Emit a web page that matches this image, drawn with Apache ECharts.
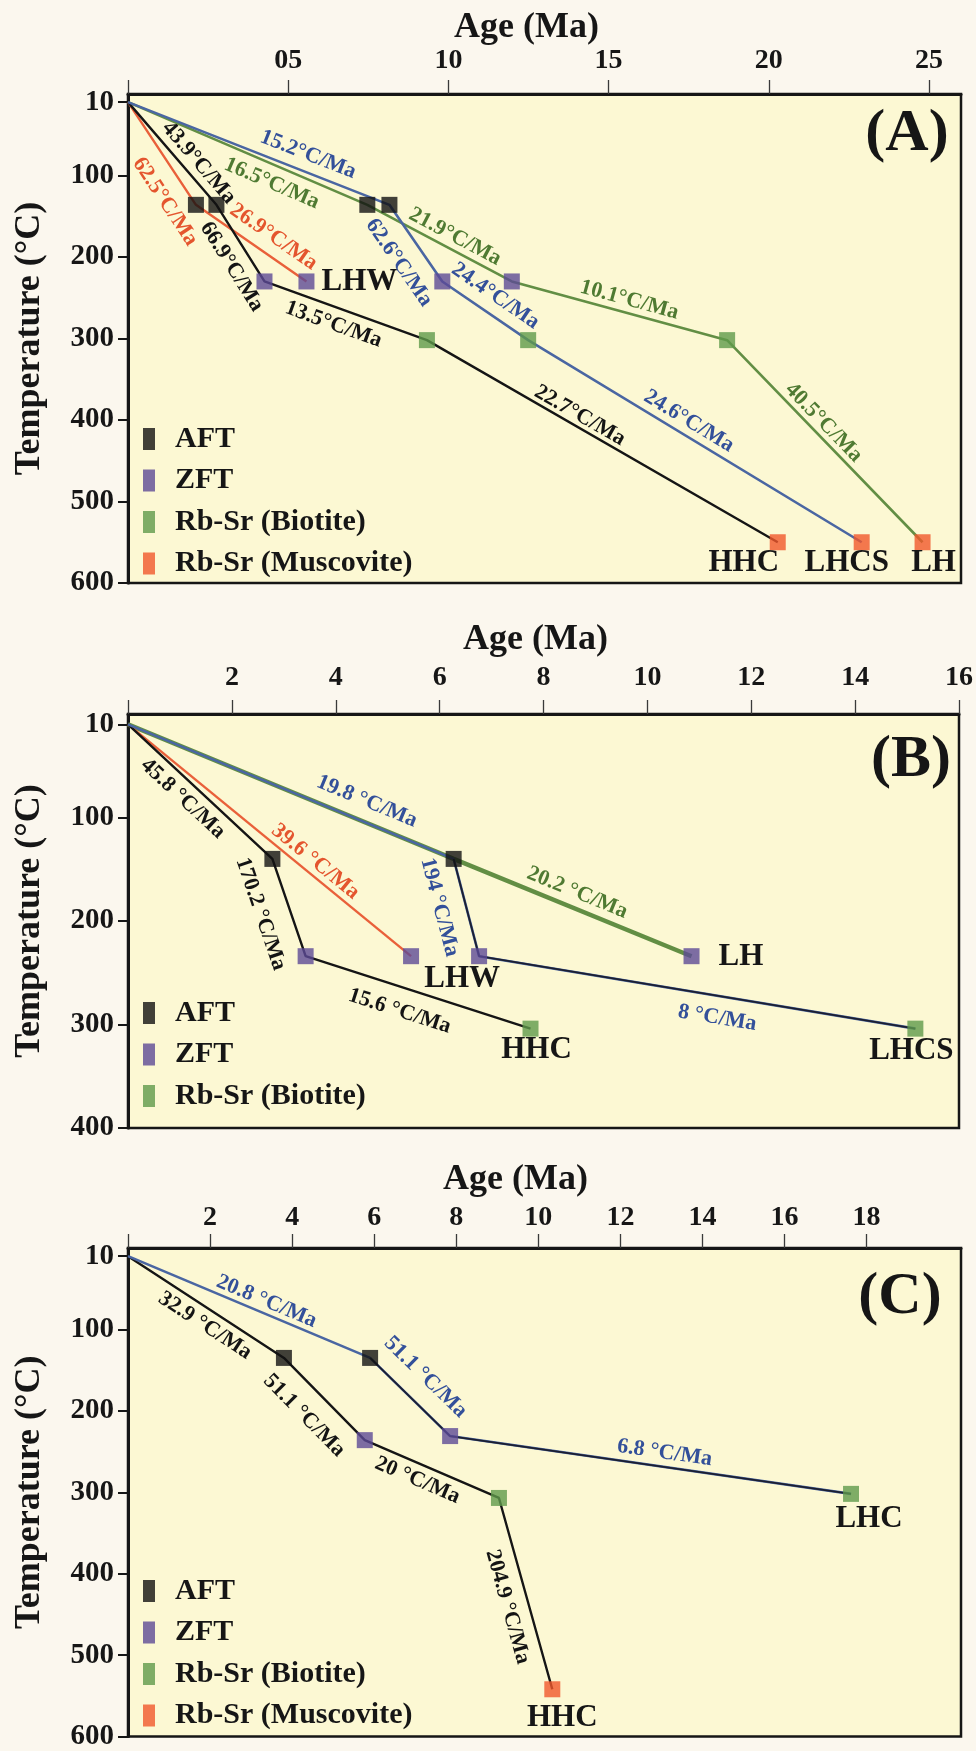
<!DOCTYPE html>
<html>
<head>
<meta charset="utf-8">
<title>Cooling histories</title>
<script src="https://cdn.jsdelivr.net/npm/echarts@6/dist/echarts.min.js"></script>
<style>
  html, body { margin: 0; padding: 0; background: #fbf7ee; }
  #chart { width: 976px; height: 1751px; }
</style>
</head>
<body>
<div id="chart"></div>
<script>
// ---------------------------------------------------------------
// Data: [age (Ma), temperature (°C)]
// ---------------------------------------------------------------
const SURFACE = [0, 10];

// Panel A
const aAFT       = [[2.12, 136], [2.76, 136], [7.47, 136], [8.16, 136]];
const aZFT       = [[4.26, 230], [5.57, 230], [9.81, 230], [11.98, 230]];
const aBiotite   = [[9.33, 302], [12.49, 302], [18.7, 302]];
const aMuscovite = [[20.28, 550], [22.9, 550], [24.8, 550]];
const aRates = ['62.5°C/Ma', '43.9°C/Ma', '15.2°C/Ma', '16.5°C/Ma', '26.9°C/Ma',
                '66.9°C/Ma', '13.5°C/Ma', '22.7°C/Ma', '62.6°C/Ma', '21.9°C/Ma',
                '24.4°C/Ma', '10.1°C/Ma', '24.6°C/Ma', '40.5°C/Ma'];
const aSites = ['LHW', 'HHC', 'LHCS', 'LH'];
const aAgeTicks  = [0, 5, 10, 15, 20, 25];
const aAgeLabels = [5, 10, 15, 20, 25];
const aTempTicks = [10, 100, 200, 300, 400, 500, 600];

// Panel B
const bAFT     = [[2.78, 140], [6.27, 140]];
const bZFT     = [[3.42, 234], [5.45, 234], [6.76, 234], [10.85, 234]];
const bBiotite = [[7.75, 304], [15.16, 304]];
const bRates = ['45.8 °C/Ma', '19.8 °C/Ma', '39.6 °C/Ma', '170.2 °C/Ma',
                '194 °C/Ma', '20.2 °C/Ma', '15.6 °C/Ma', '8 °C/Ma'];
const bSites = ['LHW', 'LH', 'HHC', 'LHCS'];
const bAgeTicks  = [0, 2, 4, 6, 8, 10, 12, 14, 16];
const bAgeLabels = [2, 4, 6, 8, 10, 12, 14, 16];
const bTempTicks = [10, 100, 200, 300, 400];

// Panel C
const cAFT       = [[3.8, 135], [5.9, 135]];
const cZFT       = [[5.77, 236], [7.85, 231]];
const cBiotite   = [[9.04, 307], [17.62, 302]];
const cMuscovite = [[10.34, 542]];
const cRates = ['20.8 °C/Ma', '32.9 °C/Ma', '51.1 °C/Ma', '51.1 °C/Ma',
                '20 °C/Ma', '6.8 °C/Ma', '204.9 °C/Ma'];
const cSites = ['LHC', 'HHC'];
const cAgeTicks  = [0, 2, 4, 6, 8, 10, 12, 14, 16, 18];
const cAgeLabels = [2, 4, 6, 8, 10, 12, 14, 16, 18];
const cTempTicks = [10, 100, 200, 300, 400, 500, 600];

// Cooling paths (sequences of the points above)
const aPaths = {
  red:   [SURFACE, aAFT[0], aZFT[1]],
  black: [SURFACE, aAFT[1], aZFT[0], aBiotite[0], aMuscovite[0]],
  green: [SURFACE, aAFT[2], aZFT[3], aBiotite[2], aMuscovite[2]],
  blue:  [SURFACE, aAFT[3], aZFT[2], aBiotite[1], aMuscovite[1]]
};
const bPaths = {
  black: [SURFACE, bAFT[0], bZFT[0], bBiotite[0]],
  red:   [SURFACE, bZFT[1]],
  green: [SURFACE, bAFT[1], bZFT[3]],
  blue:  [SURFACE, bAFT[1], bZFT[2], bBiotite[1]],
  dark:  [bAFT[1], bZFT[2], bBiotite[1]]
};
const cPaths = {
  black: [SURFACE, cAFT[0], cZFT[0], cBiotite[0], cMuscovite[0]],
  blue:  [SURFACE, cAFT[1], cZFT[1], cBiotite[1]],
  dark:  [cAFT[1], cZFT[1], cBiotite[1]]
};

// ---------------------------------------------------------------
// Styling
// ---------------------------------------------------------------
const FONT = "'Liberation Serif', 'Times New Roman', serif";
const INK = '#161616';
const COL = {
  black: '#151515', blue: '#4a66a2', green: '#628e44', red: '#e9603a', dark: '#1c1f30',
  blueText: '#33509a', greenText: '#4f7a32', redText: '#e4552e', blackText: '#141414',
  aft: '#121212', zft: '#5d4a96', bt: '#5f9a4b', ms: '#f0582c'
};
const LINE_W = { black: 2.4, blue: 2.6, green: 2.6, red: 2.4, dark: 1.8 };
const LINE_ORDER = ['green', 'red', 'black', 'blue', 'dark'];

// Label placement along path segments: [path, segment, fraction, offset(px, + = above)]
const aRatePlace = [
  ['red', 0, 0.84, -24], ['black', 0, 0.68, 14], ['blue', 0, 0.665, 17], ['green', 0, 0.63, -18],
  ['red', 1, 0.61, 18], ['black', 1, 0.67, -20], ['black', 2, 0.46, -17], ['black', 3, 0.42, 11],
  ['blue', 1, 0.57, -25], ['green', 1, 0.565, 13], ['blue', 2, 0.5, 18], ['green', 2, 0.53, 13],
  ['blue', 3, 0.46, 14], ['green', 3, 0.45, 12]
];
const bRatePlace = [
  ['black', 0, 0.46, -17], ['blue', 0, 0.71, 20], ['red', 0, 0.634, 12.5], ['black', 1, 0.47, -29],
  ['blue', 1, 0.43, -26], ['green', 1, 0.495, 15.5], ['black', 2, 0.45, -23.5], ['blue', 2, 0.554, -22]
];
const cRatePlace = [
  ['blue', 0, 0.553, 12], ['black', 0, 0.55, -16], ['black', 1, 0.48, -26], ['blue', 1, 0.475, 25],
  ['black', 2, 0.44, -16], ['blue', 2, 0.53, 14], ['black', 3, 0.54, -21]
];
// Site name anchors: [point, dx, dy, align]
const aSitePlace = [[aZFT[1], 15, 1, 'left'], [aMuscovite[0], -34, 21, 'center'],
                    [aMuscovite[1], -15, 21, 'center'], [aMuscovite[2], 11, 21, 'center']];
const bSitePlace = [[bZFT[2], -17, 23, 'center'], [bZFT[3], 27, 1, 'left'],
                    [bBiotite[0], 6, 21, 'center'], [bBiotite[1], -4, 22, 'center']];
const cSitePlace = [[cBiotite[1], 18, 25, 'center'], [cMuscovite[0], 10, 29, 'center']];

const panels = [
  { letter: '(A)', top: 94, height: 489, xMax: 26, yMax: 600,
    ageTicks: aAgeTicks, ageLabels: aAgeLabels, tempTicks: aTempTicks,
    nameGap: 46, labelMargin: 19, nameShift: -18, legendTop: 424, letterPos: [907, 134],
    paths: aPaths, rates: aRates, ratePlace: aRatePlace, sites: aSites, sitePlace: aSitePlace,
    markers: [['AFT', aAFT, COL.aft], ['ZFT', aZFT, COL.zft],
              ['Rb-Sr (Biotite)', aBiotite, COL.bt], ['Rb-Sr (Muscovite)', aMuscovite, COL.ms]] },
  { letter: '(B)', top: 714, height: 414, xMax: 16, yMax: 400,
    ageTicks: bAgeTicks, ageLabels: bAgeLabels, tempTicks: bTempTicks,
    nameGap: 56, labelMargin: 22, nameShift: -8, legendTop: 998, letterPos: [911, 760],
    paths: bPaths, rates: bRates, ratePlace: bRatePlace, sites: bSites, sitePlace: bSitePlace,
    markers: [['AFT', bAFT, COL.aft], ['ZFT', bZFT, COL.zft], ['Rb-Sr (Biotite)', bBiotite, COL.bt]] },
  { letter: '(C)', top: 1248, height: 494, xMax: 20.3, yMax: 600,
    ageTicks: cAgeTicks, ageLabels: cAgeLabels, tempTicks: cTempTicks,
    nameGap: 50, labelMargin: 16, nameShift: -29, legendTop: 1576, letterPos: [900, 1297],
    paths: cPaths, rates: cRates, ratePlace: cRatePlace, sites: cSites, sitePlace: cSitePlace,
    markers: [['AFT', cAFT, COL.aft], ['ZFT', cZFT, COL.zft],
              ['Rb-Sr (Biotite)', cBiotite, COL.bt], ['Rb-Sr (Muscovite)', cMuscovite, COL.ms]] }
];

const RATE_COLOR = { black: COL.blackText, blue: COL.blueText, green: COL.greenText, red: COL.redText };

// ---------------------------------------------------------------
// Chart
// ---------------------------------------------------------------
const chart = echarts.init(document.getElementById('chart'));

const grids = [], xAxes = [], yAxes = [], series = [], legends = [];
panels.forEach((p, i) => {
  grids.push({ left: 128, right: 15, top: p.top, height: p.height, show: true,
               backgroundColor: '#fcf8d3', borderColor: INK, borderWidth: 2.5 });
  const shift = p.nameShift;
  xAxes.push({
    gridIndex: i, type: 'value', position: 'top', min: 0, max: p.xMax,
    name: 'Age (Ma)', nameLocation: 'middle', nameGap: p.nameGap,
    nameTextStyle: { fontFamily: FONT, fontWeight: 'bold', fontSize: 36, color: INK,
                     padding: shift < 0 ? [0, -2 * shift, 0, 0] : [0, 0, 0, 2 * shift] },
    axisLine: { show: true, onZero: false, lineStyle: { color: INK, width: 3 } },
    axisTick: { show: true, inside: false, length: 14, customValues: p.ageTicks,
                lineStyle: { color: '#3a3a3a', width: 1.3 } },
    axisLabel: { show: true, customValues: p.ageLabels, margin: p.labelMargin,
                 fontFamily: FONT, fontWeight: 'bold', fontSize: 28, color: INK,
                 formatter: v => (i === 0 && v === 5) ? '05' : String(v) },
    splitLine: { show: false }
  });
  yAxes.push({
    gridIndex: i, type: 'value', inverse: true, min: 0, max: p.yMax,
    name: 'Temperature (°C)', nameLocation: 'middle', nameGap: 80, nameRotate: 90,
    nameTextStyle: { fontFamily: FONT, fontWeight: 'bold', fontSize: 36, color: INK },
    axisLine: { show: true, onZero: false, lineStyle: { color: INK, width: 3 } },
    axisTick: { show: true, inside: false, length: 10, customValues: p.tempTicks,
                lineStyle: { color: INK, width: 2 } },
    axisLabel: { show: true, customValues: p.tempTicks, margin: 14,
                 fontFamily: FONT, fontWeight: 'bold', fontSize: 29, color: INK },
    splitLine: { show: false }
  });

  LINE_ORDER.forEach(key => {
    if (!p.paths[key]) return;
    let width = LINE_W[key];
    // where green and blue share the first leg, the green runs wider underneath
    if (i === 1 && key === 'green') width = 4.4;
    series.push({
      type: 'line', xAxisIndex: i, yAxisIndex: i, data: p.paths[key],
      symbol: 'none', showSymbol: false, silent: true, z: 2,
      lineStyle: { color: COL[key], width }
    });
  });

  p.markers.forEach(([name, pts, color]) => {
    series.push({
      name, type: 'scatter', xAxisIndex: i, yAxisIndex: i, data: pts,
      symbol: 'rect', symbolSize: [16, 16], itemStyle: { color }, z: 5, silent: true
    });
  });

  legends.push({
    orient: 'vertical', left: 143, top: p.legendTop, padding: 0,
    icon: 'rect', itemWidth: 12, itemHeight: 22, itemGap: 11.5,
    selectedMode: false,
    data: p.markers.map(m => m[0]),
    textStyle: { fontFamily: FONT, fontWeight: 'bold', fontSize: 30, color: INK,
                 lineHeight: 30, padding: [0, 0, 0, 15] }
  });
});

chart.setOption({
  animation: false,
  backgroundColor: '#fbf7ee',
  grid: grids, xAxis: xAxes, yAxis: yAxes, legend: legends, series
});

// Rate and site labels, placed from the data through the axes
function toPx(i, pt) { return chart.convertToPixel({ gridIndex: i }, pt); }

const graphics = [];
panels.forEach((p, i) => {
  p.ratePlace.forEach(([key, seg, t, off], k) => {
    const path = p.paths[key];
    const p0 = toPx(i, path[seg]), p1 = toPx(i, path[seg + 1]);
    const dx = p1[0] - p0[0], dy = p1[1] - p0[1], L = Math.hypot(dx, dy);
    const ux = dx / L, uy = dy / L, nx = uy, ny = -ux;
    graphics.push({
      type: 'text', silent: true, z: 10,
      x: p0[0] + ux * t * L + nx * off,
      y: p0[1] + uy * t * L + ny * off,
      rotation: -Math.atan2(dy, dx),
      style: { text: p.rates[k], fill: RATE_COLOR[key],
               font: `bold 22px ${FONT}`,
               align: 'center', verticalAlign: 'middle',
               textAlign: 'center', textVerticalAlign: 'middle' }
    });
  });
  p.sitePlace.forEach(([pt, dx, dy, align], k) => {
    const q = toPx(i, pt);
    graphics.push({
      type: 'text', silent: true, z: 10, x: q[0] + dx, y: q[1] + dy,
      style: { text: p.sites[k], fill: INK, font: `bold 31px ${FONT}`,
               align, verticalAlign: 'middle', textAlign: align, textVerticalAlign: 'middle' }
    });
  });
  graphics.push({
    type: 'text', silent: true, z: 10, x: p.letterPos[0], y: p.letterPos[1],
    style: { text: p.letter, fill: INK, font: `bold 60px ${FONT}`,
             align: 'center', verticalAlign: 'middle', textAlign: 'center', textVerticalAlign: 'middle' }
  });
});

chart.setOption({ graphic: { elements: graphics } });
</script>
</body>
</html>
